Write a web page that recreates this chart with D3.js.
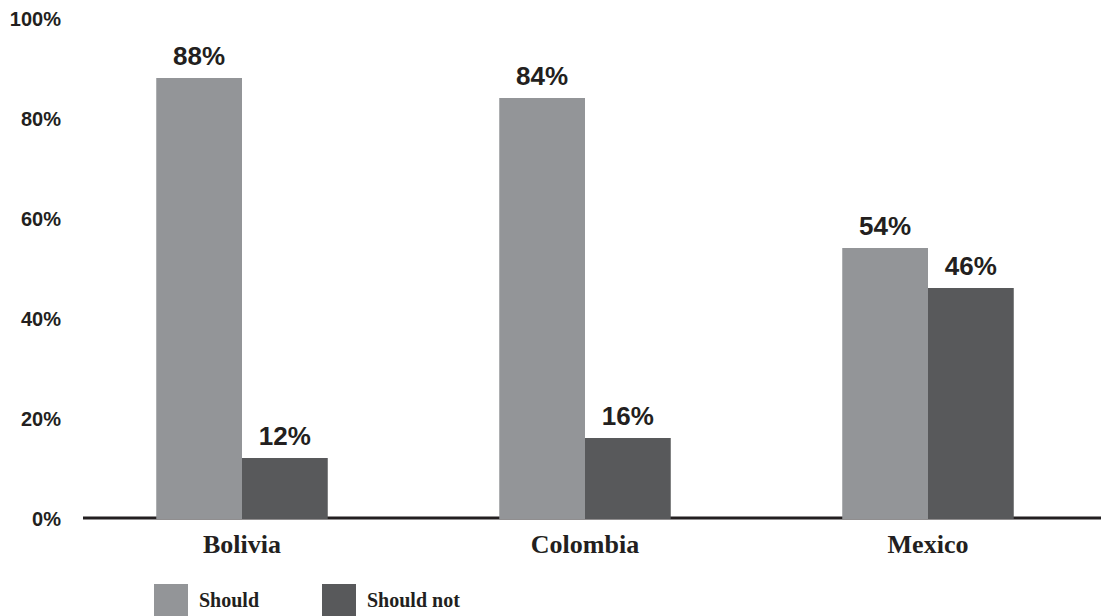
<!DOCTYPE html>
<html>
<head>
<meta charset="utf-8">
<script src="https://cdn.jsdelivr.net/npm/d3@7"></script>
<style>
  html, body { margin: 0; padding: 0; background: #fff; }
  svg { display: block; }
</style>
</head>
<body>
<svg id="chart" width="1101" height="616"></svg>
<script>
// Data
const categories = ["Bolivia", "Colombia", "Mexico"];
const seriesNames = ["Should", "Should not"];
const shouldValues = [88, 84, 54];
const shouldNotValues = [12, 16, 46];
const yTicks = [0, 20, 40, 60, 80, 100];

const colors = { "Should": "#939598", "Should not": "#58595b" };
const textColor = "#231f20";

const svg = d3.select("#chart");

const y = d3.scaleLinear().domain([0, 100]).range([518, 18]);
const x = d3.scaleBand().domain(categories).range([70.5, 1099.5])
  .paddingInner(0.5).paddingOuter(0.25);
const xs = d3.scaleBand().domain(seriesNames).range([0, x.bandwidth()]);

const rows = categories.map((c, i) => ({
  category: c,
  values: [
    { series: "Should", value: shouldValues[i] },
    { series: "Should not", value: shouldNotValues[i] }
  ]
}));

// Y axis labels (no axis line or ticks)
const yAxis = d3.axisLeft(y).tickValues(yTicks).tickFormat(d => d + "%").tickSize(0).tickPadding(0);
const yg = svg.append("g").attr("transform", "translate(61,1.5)").call(yAxis);
yg.select(".domain").remove();
yg.selectAll("text")
  .attr("font-family", "'Liberation Sans', Arial, sans-serif")
  .attr("font-weight", "bold")
  .attr("font-size", 20)
  .attr("fill", textColor);

// Baseline
svg.append("line")
  .attr("x1", 83).attr("x2", 1101)
  .attr("y1", y(0)).attr("y2", y(0))
  .attr("stroke", textColor).attr("stroke-width", 3);

// Bars
const groups = svg.selectAll("g.grp").data(rows).join("g")
  .attr("class", "grp")
  .attr("transform", d => `translate(${x(d.category)},0)`);

groups.selectAll("rect").data(d => d.values).join("rect")
  .attr("x", d => xs(d.series))
  .attr("width", xs.bandwidth())
  .attr("y", d => y(d.value))
  .attr("height", d => y(0) - y(d.value) + 1)
  .attr("fill", d => colors[d.series]);

// Value labels
groups.selectAll("text.val").data(d => d.values).join("text")
  .attr("class", "val")
  .attr("x", d => xs(d.series) + xs.bandwidth() / 2)
  .attr("y", d => y(d.value) - 13)
  .attr("text-anchor", "middle")
  .attr("font-family", "'Liberation Sans', Arial, sans-serif")
  .attr("font-weight", "bold")
  .attr("font-size", 26)
  .attr("fill", textColor)
  .text(d => d.value + "%");

// Category labels
const xAxis = d3.axisBottom(x).tickSize(0).tickPadding(0);
const xg = svg.append("g").attr("transform", "translate(0,534.5)").call(xAxis);
xg.select(".domain").remove();
xg.selectAll("text")
  .attr("font-family", "'Liberation Serif', 'Times New Roman', serif")
  .attr("font-weight", "bold")
  .attr("font-size", 26)
  .attr("fill", textColor);

// Legend
const legendX = [154, 322];
const legend = svg.selectAll("g.leg").data(seriesNames).join("g")
  .attr("class", "leg")
  .attr("transform", (d, i) => `translate(${legendX[i]},584)`);
legend.append("rect")
  .attr("width", 34).attr("height", 34)
  .attr("fill", d => colors[d]);
legend.append("text")
  .attr("x", 45).attr("y", 23)
  .attr("font-family", "'Liberation Serif', 'Times New Roman', serif")
  .attr("font-weight", "bold")
  .attr("font-size", 20)
  .attr("fill", textColor)
  .text(d => d);
</script>
</body>
</html>
